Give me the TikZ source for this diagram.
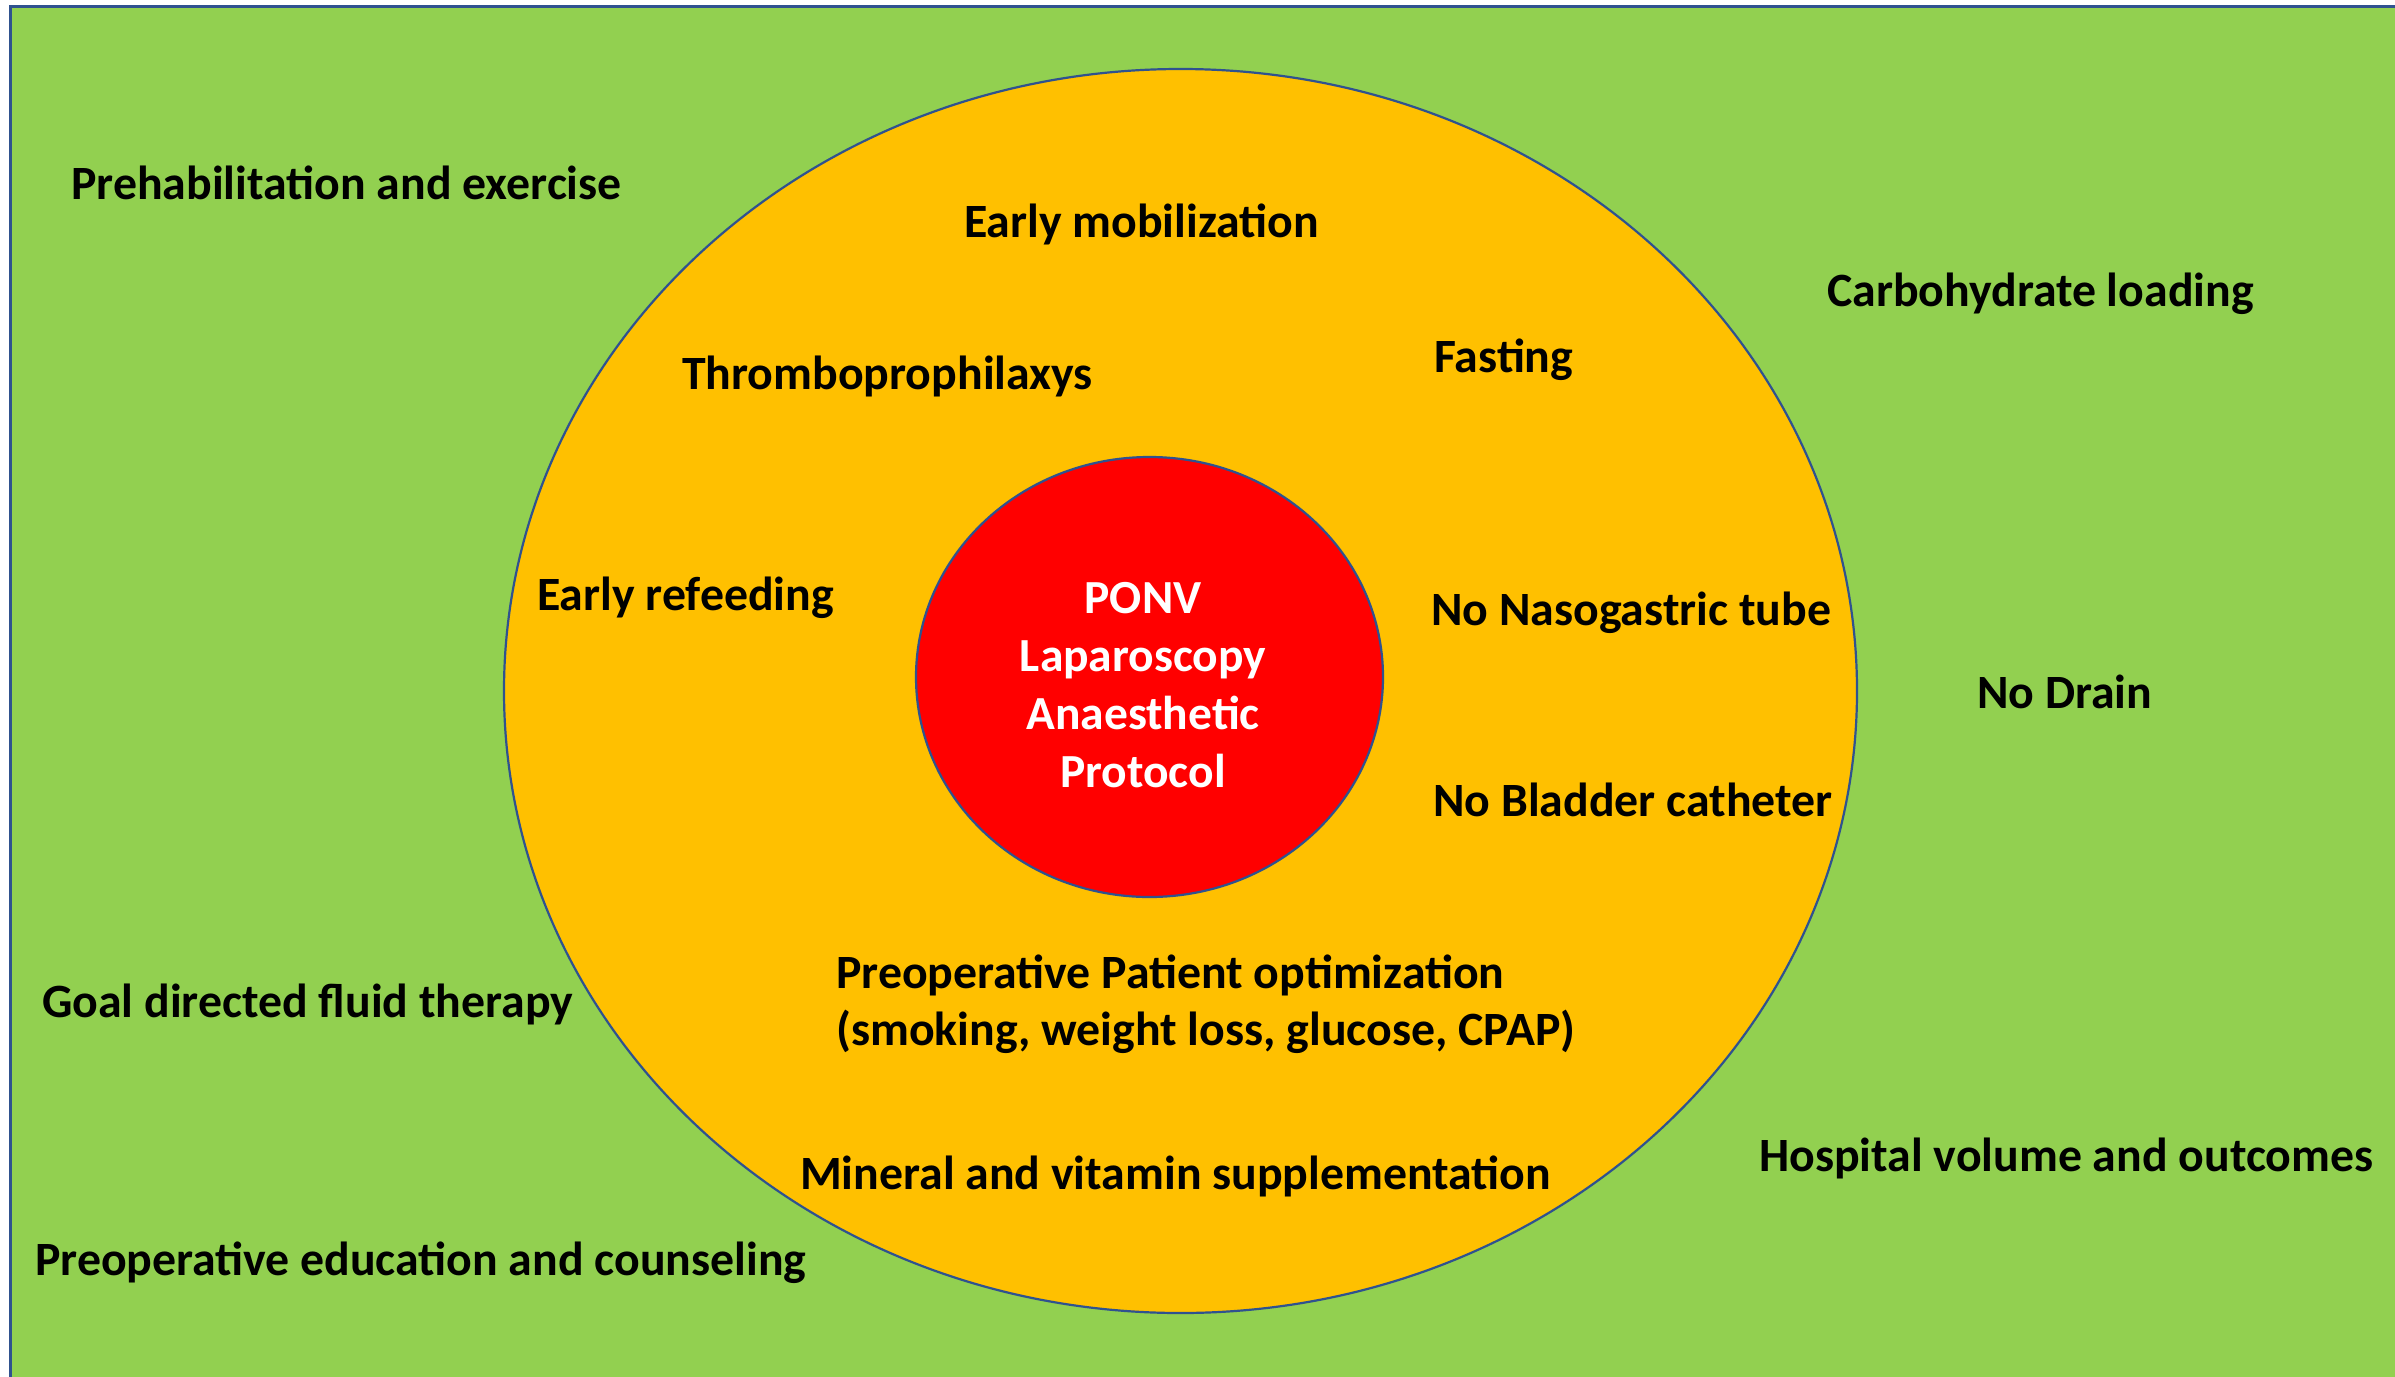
\documentclass[tikz,border=0pt]{standalone}
\usepackage{fontspec}
\setmainfont{Carlito}
\usetikzlibrary{shapes.geometric}
\definecolor{bggreen}{HTML}{92D050}
\definecolor{ringorange}{HTML}{FFC000}
\definecolor{corered}{HTML}{FF0000}
\definecolor{edgeblue}{HTML}{2F528F}
\tikzset{
  lbl/.style={anchor=base west, inner sep=0pt, font=\fontsize{47.8}{57}\selectfont\bfseries, text=black},
  corelbl/.style={anchor=center, inner sep=0pt, align=center, font=\fontsize{47.5}{58}\selectfont\bfseries, text=white},
}
\begin{document}
\begin{tikzpicture}[x=1pt,y=-1pt]
\useasboundingbox (0,0) rectangle (2395,1376);
\clip (0,0) rectangle (2395,1376);
\fill[white] (0,0) rectangle (2395,1376);
\draw[edgeblue, line width=3pt, fill=bggreen] (10.5,6.5) rectangle (2420,1400);
\node[ellipse, draw=edgeblue, line width=2.2pt, fill=ringorange, minimum width=1353pt, minimum height=1244pt, inner sep=0pt] (outer) at (1180.5,691) {};
\node[ellipse, draw=edgeblue, line width=2.2pt, fill=corered, minimum width=467pt, minimum height=440pt, inner sep=0pt] (core) at (1149.5,677) {};
\node[corelbl] (coretext) at (1143,685) {PONV\\Laparoscopy\\Anaesthetic\\Protocol};

\node[lbl] (prehab) at (71,199) {Prehabilitation and exercise};
\node[lbl] (mobil) at (964,237) {Early mobilization};
\node[lbl] (carbo) at (1827,306) {Carbohydrate loading};
\node[lbl] (thrombo) at (682,389) {Thromboprophilaxys};
\node[lbl] (fasting) at (1434,372) {Fasting};
\node[lbl] (refeed) at (537,610) {Early refeeding};
\node[lbl] (ngtube) at (1431,625) {No Nasogastric tube};
\node[lbl] (drain) at (1977,708) {No Drain};
\node[lbl] (bladder) at (1433,816) {No Bladder catheter};
\node[lbl] (optim) at (836,988) {Preoperative Patient optimization};
\node[lbl] (optim2) at (836,1045) {(smoking, weight loss, glucose, CPAP)};
\node[lbl] (fluid) at (42,1017) {Goal directed fluid therapy};
\node[lbl] (hospital) at (1759,1171) {Hospital volume and outcomes};
\node[lbl] (mineral) at (800,1189) {Mineral and vitamin supplementation};
\node[lbl] (educ) at (35,1275) {Preoperative education and counseling};
\end{tikzpicture}
\end{document}
